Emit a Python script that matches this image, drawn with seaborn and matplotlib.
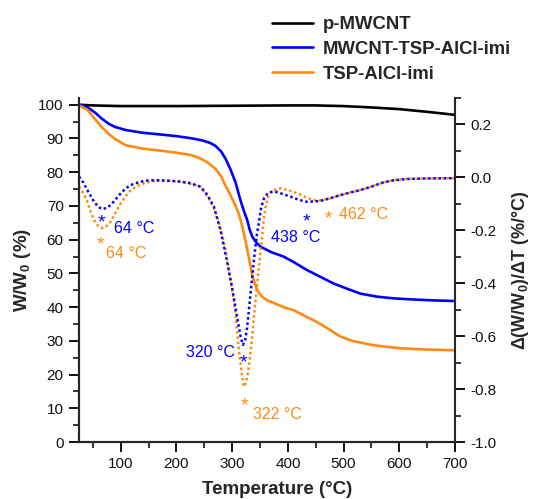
import numpy as np
import pandas as pd
import matplotlib
matplotlib.use("Agg")
import matplotlib.pyplot as plt
from matplotlib.ticker import MultipleLocator, FormatStrFormatter
import seaborn as sns

# ---- TGA curves (left axis, W/W0 in %) ----
t_black = [25, 50, 100, 200, 300, 400, 450, 500, 550, 600, 650, 700]
w_black = [100, 99.8, 99.6, 99.6, 99.7, 99.8, 99.8, 99.6, 99.2, 98.7, 97.9, 97.0]

t_blue = [25, 40, 55, 65, 78, 90, 109, 139, 170, 199, 225, 247, 260, 270, 280, 288,
          297, 306, 315, 321, 327, 331, 336, 343, 351, 370, 392, 412, 434, 458, 482,
          507, 530, 560, 589, 620, 660, 700]
w_blue = [100, 99.3, 97.5, 96.0, 94.4, 93.4, 92.5, 91.7, 91.2, 90.7, 90.1, 89.4, 88.7,
          87.8, 86.2, 84.0, 80.8, 77.0, 71.6, 68.5, 65.8, 63.2, 60.9, 59.2, 57.9, 56.3,
          55.0, 53.2, 51.0, 49.0, 47.0, 45.4, 44.0, 43.1, 42.6, 42.3, 42.0, 41.8]

t_orange = [25, 40, 55, 65, 78, 90, 109, 139, 170, 199, 225, 240, 255, 270, 280, 288,
            297, 306, 312, 318, 324, 330, 336, 342, 348, 355, 363, 375, 392, 410, 435,
            452, 470, 494, 515, 553, 601, 650, 700]
w_orange = [99.8, 98.5, 95.5, 93.5, 91.4, 89.8, 88.0, 87.0, 86.4, 85.8, 85.1, 84.3, 83.0,
            81.0, 78.8, 76.0, 73.2, 70.0, 67.6, 64.0, 59.5, 54.5, 49.5, 46.2, 44.2, 42.9,
            42.0, 41.2, 40.0, 39.1, 37.0, 35.6, 33.8, 31.3, 30.0, 28.7, 27.8, 27.4, 27.2]

# ---- DTG curves (right axis, d(W/W0)/dT in %/°C) ----
t_dtg_blue = [25, 33, 40, 52, 60, 67, 75, 82, 90, 100, 110, 118, 130, 142, 155, 170,
              190, 207, 225, 243, 255, 267, 279, 291, 300, 309, 315, 319, 323, 327,
              333, 339, 344, 348, 352, 357, 363, 370, 377, 390, 405, 420, 434, 446,
              458, 476, 494, 512, 530, 550, 571, 590, 614, 650, 700]
d_dtg_blue = [0.003, -0.02, -0.048, -0.092, -0.112, -0.12, -0.115, -0.104, -0.085,
              -0.06, -0.04, -0.029, -0.02, -0.013, -0.011, -0.011, -0.013, -0.016,
              -0.022, -0.035, -0.065, -0.11, -0.2, -0.32, -0.42, -0.53, -0.6, -0.633,
              -0.62, -0.564, -0.437, -0.312, -0.22, -0.17, -0.115, -0.08, -0.063,
              -0.055, -0.054, -0.062, -0.073, -0.085, -0.092, -0.091, -0.089, -0.079,
              -0.067, -0.057, -0.048, -0.035, -0.019, -0.011, -0.006, -0.004, -0.003]

t_dtg_orange = [25, 33, 40, 46, 52, 60, 67, 75, 82, 90, 100, 110, 118, 130, 142, 155,
                166, 185, 207, 225, 243, 258, 267, 273, 281, 288, 295, 303, 308, 312,
                317, 321, 325, 330, 335, 339, 344, 348, 353, 357, 361, 366, 372, 387,
                400, 417, 435, 452, 462, 476, 494, 512, 530, 550, 571, 590, 614, 650, 700]
d_dtg_orange = [-0.035, -0.06, -0.092, -0.13, -0.161, -0.185, -0.192, -0.183, -0.167,
                -0.135, -0.098, -0.068, -0.048, -0.032, -0.022, -0.015, -0.012, -0.013,
                -0.016, -0.024, -0.035, -0.079, -0.115, -0.149, -0.21, -0.274, -0.36,
                -0.463, -0.56, -0.652, -0.74, -0.791, -0.775, -0.715, -0.62, -0.526,
                -0.42, -0.337, -0.24, -0.149, -0.1, -0.065, -0.05, -0.041, -0.048,
                -0.06, -0.078, -0.089, -0.086, -0.079, -0.067, -0.057, -0.048, -0.035,
                -0.019, -0.011, -0.006, -0.004, -0.003]

# DTG peaks that get a star and a temperature label
peaks_blue = [64, 320, 438]
peakval_blue = [-0.12, -0.633, -0.092]
peaks_orange = [64, 322, 462]
peakval_orange = [-0.192, -0.791, -0.089]

labels = ["p-MWCNT", "MWCNT-TSP-AlCl-imi", "TSP-AlCl-imi"]
BLUE = "#0000FF"
ORANGE = "#FF8A12"

sns.set_style("ticks")
plt.rcParams["font.family"] = ["Liberation Sans", "DejaVu Sans"]
plt.rcParams["mathtext.fontset"] = "custom"
plt.rcParams["mathtext.bf"] = "Liberation Sans:bold"
plt.rcParams["mathtext.rm"] = "Liberation Sans:bold"
plt.rcParams["axes.unicode_minus"] = False

fig = plt.figure(figsize=(5.34, 4.99), dpi=100)
ax = fig.add_axes([79 / 534, 1 - 442 / 499, 376 / 534, 344 / 499])
ax2 = ax.twinx()

lw = 1.9
sns.lineplot(x=t_black, y=w_black, ax=ax, color="black", lw=lw, label=labels[0], legend=False)
sns.lineplot(x=t_blue, y=w_blue, ax=ax, color=BLUE, lw=lw, label=labels[1], legend=False)
sns.lineplot(x=t_orange, y=w_orange, ax=ax, color=ORANGE, lw=lw, label=labels[2], legend=False)

sns.lineplot(x=t_dtg_orange, y=d_dtg_orange, ax=ax2, color=ORANGE, lw=1.8,
             linestyle=(0, (1, 1.1)), legend=False)
sns.lineplot(x=t_dtg_blue, y=d_dtg_blue, ax=ax2, color=BLUE, lw=1.8,
             linestyle=(0, (1, 1.1)), legend=False)

ax.set_xlim(25, 700)
ax.set_ylim(0, 102)
ax2.set_ylim(-1.0, 0.3)

ax.xaxis.set_major_locator(MultipleLocator(100))
ax.xaxis.set_minor_locator(MultipleLocator(50))
ax.yaxis.set_major_locator(MultipleLocator(10))
ax.yaxis.set_minor_locator(MultipleLocator(5))
ax2.yaxis.set_major_locator(MultipleLocator(0.2))
ax2.yaxis.set_minor_locator(MultipleLocator(0.1))
ax2.yaxis.set_major_formatter(FormatStrFormatter("%.1f"))

for a in (ax, ax2):
    a.spines["top"].set_visible(False)
    for s in a.spines.values():
        s.set_linewidth(1.5)
    a.tick_params(which="major", direction="out", length=7.5, width=1.3, labelsize=11,
                  color="black", labelcolor="#111111")
    a.tick_params(which="minor", direction="out", length=4.2, width=1.3)
ax.spines["right"].set_visible(False)

ax.set_xlabel("Temperature (°C)", fontsize=13.5, fontweight="bold")
ax.xaxis.set_label_coords(0.527, -0.112)
ax.set_ylabel("W/W$_\\mathbf{0}$ (%)", fontsize=13.5, fontweight="bold", labelpad=4)
ax2.set_ylabel("$\\Delta$(W/W$_\\mathbf{0}$)/$\\Delta$T (%/°C)", fontsize=13,
               fontweight="bold", rotation=90, labelpad=10)

# peak stars and labels (offsets in pixels)
star_kw = dict(textcoords="offset pixels", ha="center", va="baseline", fontsize=14)
txt_kw = dict(textcoords="offset pixels", va="center", fontsize=11.5)
star_off_b = [(1, -18), (0, -23), (-3, -25)]
text_off_b = [((13, -19), "left"), ((-8, -8), "right"), ((-13, -36), "center")]
star_off_o = [(0, -21), (0, -24), (6, -23)]
text_off_o = [((5, -25), "left"), ((9, -28), "left"), ((17, -14), "left")]

for t, v, so, (to, ha) in zip(peaks_blue, peakval_blue, star_off_b, text_off_b):
    ax2.annotate("*", xy=(t, v), xytext=so, color=BLUE, **star_kw)
    ax2.annotate(f"{t} °C", xy=(t, v), xytext=to, color=BLUE, ha=ha, **txt_kw)
for t, v, so, (to, ha) in zip(peaks_orange, peakval_orange, star_off_o, text_off_o):
    ax2.annotate("*", xy=(t, v), xytext=so, color=ORANGE, **star_kw)
    ax2.annotate(f"{t} °C", xy=(t, v), xytext=to, color=ORANGE, ha=ha, **txt_kw)

handles, labs = ax.get_legend_handles_labels()
fig.legend(handles, labs, loc="upper left", bbox_to_anchor=(272 / 534, 1 - 16 / 499),
           frameon=False, prop=dict(weight="bold", size=13.3), handlelength=2.2,
           handletextpad=0.55, labelspacing=0.42, borderpad=0, borderaxespad=0)

fig.savefig("out.png", dpi=100)
